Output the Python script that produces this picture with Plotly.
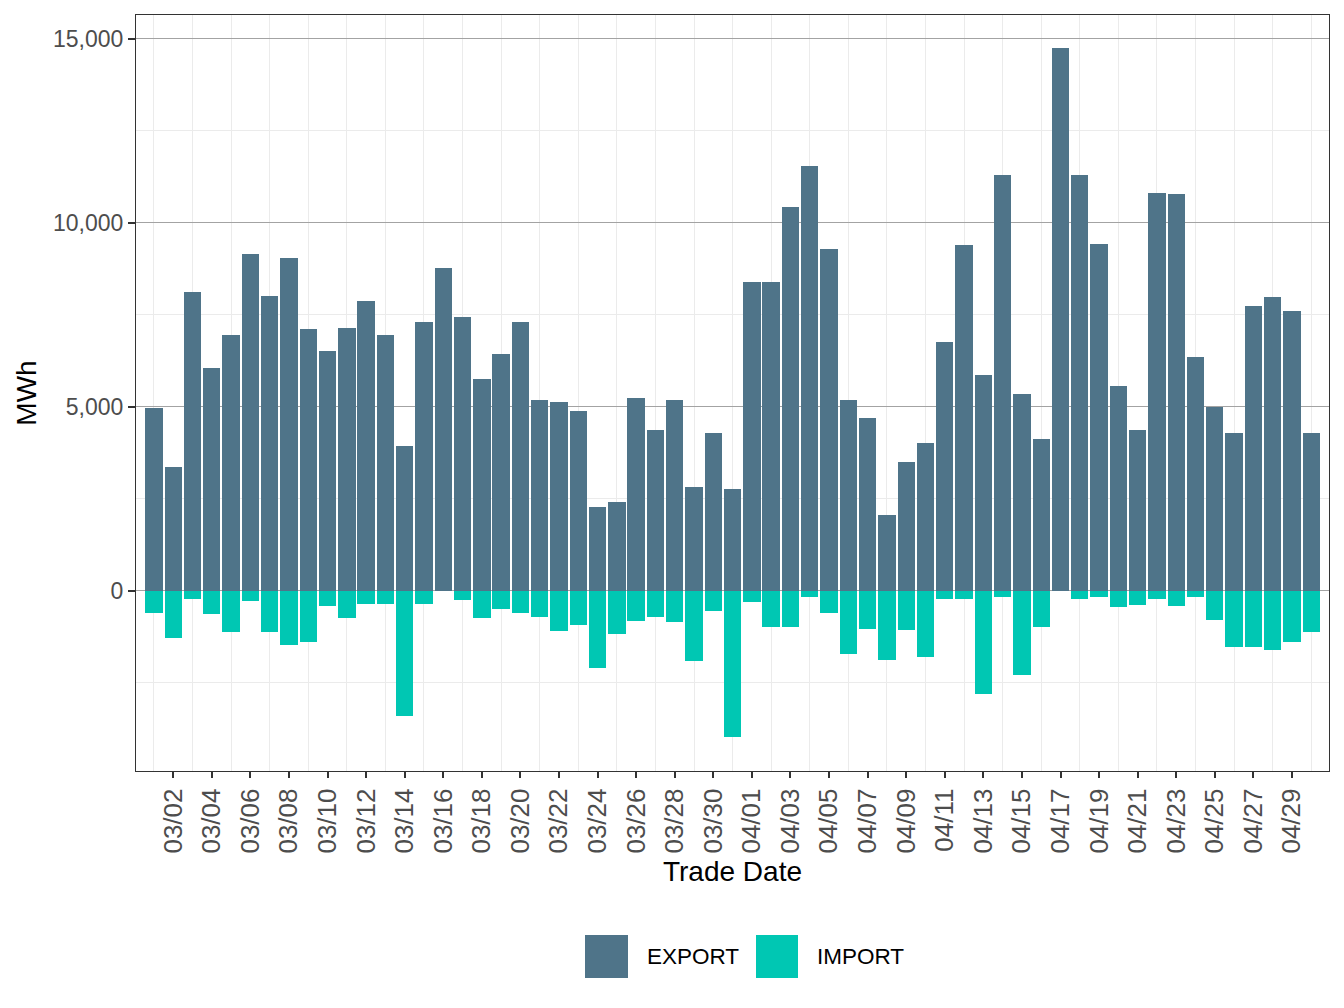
import datetime as dt
import plotly.graph_objects as go

# ---- data ----
start = dt.date(2023, 3, 1)
dates = [(start + dt.timedelta(days=i)).isoformat() for i in range(61)]

export_mwh = [4950, 3360, 8110, 6050, 6960, 9140, 8000, 9030, 7100, 6500,
              7130, 7860, 6960, 3930, 7290, 8760, 7430, 5740, 6420, 7290,
              5170, 5120, 4880, 2270, 2400, 5230, 4360, 5170, 2820, 4280,
              2760, 8380, 8380, 10430, 11540, 9280, 5170, 4690, 2060, 3500,
              4010, 6770, 9400, 5870, 11310, 5350, 4120, 14740, 11310, 9420,
              5560, 4360, 10810, 10780, 6350, 4990, 4290, 7740, 7980, 7600,
              4290]

import_mwh = [-600, -1300, -220, -650, -1140, -280, -1140, -1470, -1410, -430,
              -760, -380, -380, -3420, -380, 0, -250, -760, -490, -620,
              -730, -1110, -950, -2120, -1170, -840, -730, -870, -1930, -570,
              -3990, -300, -980, -980, -170, -620, -1730, -1060, -1900, -1080,
              -1820, -220, -220, -2820, -190, -2290, -1000, 0, -220, -190,
              -440, -390, -220, -410, -170, -810, -1530, -1530, -1630, -1390,
              -1120]

series_names = ["EXPORT", "IMPORT"]
series_colors = ["#4F7489", "#00C7B3"]

tick_dates = [(start + dt.timedelta(days=i)).isoformat() for i in range(1, 61, 2)]
tick_text = [(start + dt.timedelta(days=i)).strftime("%m/%d") for i in range(1, 61, 2)]
minor_dates = [(start + dt.timedelta(days=i)).isoformat() for i in range(0, 61, 2)]

y_ticks = [0, 5000, 10000, 15000]
y_minor = [-2500, 2500, 7500, 12500]

# ---- figure ----
DAY_MS = 86400000
fig = go.Figure()
for name, vals, col in zip(series_names, [export_mwh, import_mwh], series_colors):
    fig.add_trace(go.Bar(x=dates, y=vals, name=name, marker=dict(color=col, line=dict(width=0)),
                         width=0.9 * DAY_MS, showlegend=False))

W, H = 1344, 1008
L, R, T, B = 136, 15, 15, 237
pw, ph = W - L - R, H - T - B

x0 = dt.datetime(2023, 3, 1) - dt.timedelta(days=0.93)
x1 = dt.datetime(2023, 4, 30) + dt.timedelta(days=0.92)

font_fam = "Liberation Sans, Arial, sans-serif"
fig.update_layout(
    width=W, height=H,
    margin=dict(l=L, r=R, t=T, b=B),
    paper_bgcolor="white", plot_bgcolor="white",
    barmode="relative", bargap=0,
    font=dict(family=font_fam, color="#000000"),
    xaxis=dict(
        type="date", range=[x0.isoformat(), x1.isoformat()],
        tickmode="array", tickvals=tick_dates, ticktext=tick_text,
        tickangle=-90, tickfont=dict(size=26, color="#4d4d4d"),
        ticks="outside", ticklen=6, tickwidth=1.5, tickcolor="#333333",
        showgrid=False, zeroline=False,
        showline=True, mirror=True, linecolor="#333333", linewidth=1.2,
        minor=dict(tickmode="array", tickvals=minor_dates, showgrid=True,
                   gridcolor="#ebebeb", gridwidth=1, ticks=""),
        title=dict(text="Trade Date", font=dict(size=28, color="#000000"), standoff=8),
    ),
    yaxis=dict(
        range=[-4908, 15648],
        tickmode="array", tickvals=y_ticks, tickformat=",",
        tickfont=dict(size=23, color="#4d4d4d"),
        ticks="outside", ticklen=7, tickwidth=1.5, tickcolor="#333333",
        showgrid=True, gridcolor="#a3a3a3", gridwidth=1, zeroline=False,
        showline=True, mirror=True, linecolor="#333333", linewidth=1.2,
        minor=dict(tickmode="array", tickvals=y_minor, showgrid=True,
                   gridcolor="#ebebeb", gridwidth=1, ticks=""),
        title=dict(text="MWh", font=dict(size=28, color="#000000"), standoff=8),
    ),
)

# custom legend (large square keys like ggplot)
def px_x(p):
    return (p - L) / pw

def px_y(p):
    return (H - B - p) / ph

legend_items = [(585, 628, 645), (756, 798, 815)]
for (kx0, kx1, tx), name, col in zip(legend_items, series_names, series_colors):
    fig.add_shape(type="rect", xref="paper", yref="paper",
                  x0=px_x(kx0), x1=px_x(kx1), y0=px_y(978), y1=px_y(935),
                  fillcolor=col, line=dict(width=0))
    fig.add_annotation(xref="paper", yref="paper", x=px_x(tx), y=px_y(956.5),
                       xanchor="left", yanchor="middle", showarrow=False,
                       text=name, font=dict(size=22.5, color="#000000"))

fig.write_html("out.html")
